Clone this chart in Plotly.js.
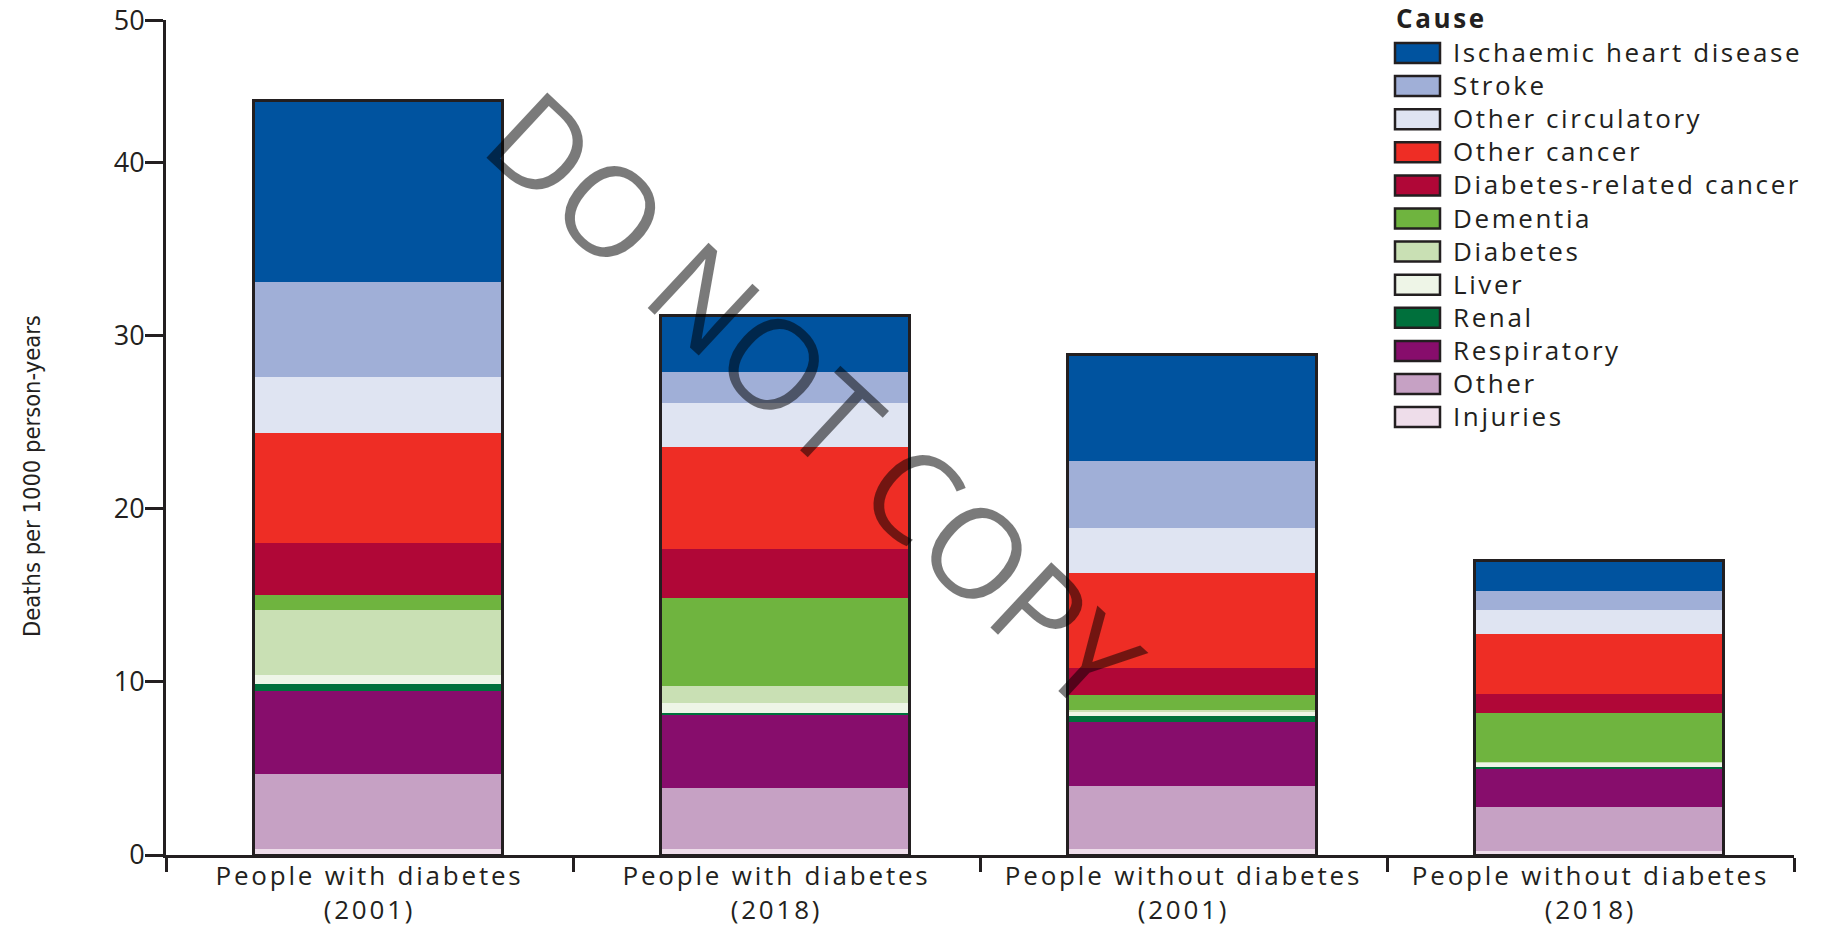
<!DOCTYPE html>
<html><head><meta charset="utf-8">
<script src="https://cdn.plot.ly/plotly-3.0.1.min.js"></script>
<style>
html,body{margin:0;padding:0;background:#fff;}
#chart{width:1824px;height:926px;}
.xtick text {letter-spacing:2.8px;}
.annotation .annotation-text {letter-spacing:2.6px;}
.annotation[data-index="0"] .annotation-text, .annotation[data-index="1"] .annotation-text {letter-spacing:0;}
</style>
</head><body><div id="chart"></div>
<script>
// ---- data ----
var groups = ['People with diabetes<br>(2001)', 'People with diabetes<br>(2018)', 'People without diabetes<br>(2001)', 'People without diabetes<br>(2018)'];
var causes = ['Ischaemic heart disease','Stroke','Other circulatory','Other cancer','Diabetes-related cancer','Dementia','Diabetes','Liver','Renal','Respiratory','Other','Injuries'];
var colors = ['#00539F','#A0AFD7','#DFE4F2','#EE2D25','#B00737','#6FB43F','#C9E0B4','#EEF5E7','#00703C','#870D6C','#C6A1C4','#EEDDEA'];
var ischaemic      = [10.49, 3.29, 6.12, 1.77];
var stroke         = [5.45, 1.77, 3.89, 1.08];
var otherCirc      = [3.24, 2.54, 2.56, 1.43];
var otherCancer    = [6.35, 5.92, 5.49, 3.42];
var diabetesCancer = [3.02, 2.79, 1.60, 1.14];
var dementia       = [0.85, 5.10, 0.87, 2.79];
var diabetesD      = [3.76, 0.98, 0.09, 0.05];
var liver          = [0.53, 0.56, 0.25, 0.24];
var renal          = [0.41, 0.16, 0.33, 0.10];
var respiratory    = [4.79, 4.17, 3.70, 2.25];
var other          = [4.34, 3.57, 3.66, 2.52];
var injuries       = [0.32, 0.32, 0.32, 0.23];
var yTop = 48.2;
var yTickVals = [0, 10, 20, 30, 40, 48.2];
var yTickText = ['0', '10', '20', '30', '40', '50'];
var yTitle = 'Deaths per 1000 person-years';
var legendTitle = 'Cause';
var watermark = 'DO NOT COPY';

var series = [ischaemic, stroke, otherCirc, otherCancer, diabetesCancer, dementia, diabetesD, liver, renal, respiratory, other, injuries];

// ---- geometry ----
var W = 1824, H = 926, L = 166, R = 30, T = 20, B = 71;
var PW = W - L - R, PH = H - T - B;
function px(x){ return (x - L) / PW; }
function py(y){ return (H - B - y) / PH; }
var ink = '#231f20';
var barW = 0.61, barOff = -0.284;

var traces = [];
for (var i = series.length - 1; i >= 0; i--) {
  traces.push({
    type: 'bar', name: causes[i], x: groups, y: series[i],
    width: barW, offset: barOff,
    marker: {color: colors[i], line: {width: 0}},
    hovertemplate: causes[i] + ': %{y}<extra></extra>'
  });
}
var totals = groups.map(function(g, j){ return series.reduce(function(s, a){ return s + a[j]; }, 0); });
traces.push({
  type: 'bar', name: 'Total', x: groups, y: totals, base: [0,0,0,0],
  width: barW, offset: barOff,
  marker: {color: 'rgba(0,0,0,0)', line: {width: 3, color: ink}},
  hoverinfo: 'skip', showlegend: false
});

var shapes = [], annotations = [];
annotations.push({
  text: watermark, xref: 'paper', yref: 'paper', x: px(816), y: py(398),
  xanchor: 'center', yanchor: 'middle', showarrow: false, textangle: 43,
  font: {family: 'Open Sans, sans-serif', size: 125, color: 'rgba(0,0,0,0.52)'}
});
annotations.push({
  text: yTitle, xref: 'paper', yref: 'paper', x: px(32), y: py(476),
  xanchor: 'center', yanchor: 'middle', showarrow: false, textangle: -90,
  font: {family: 'Liberation Sans Narrow, DejaVu Sans Condensed, sans-serif', size: 23.5, color: ink}
});
annotations.push({
  text: legendTitle, xref: 'paper', yref: 'paper', x: px(1394), y: py(18),
  xanchor: 'left', yanchor: 'middle', align: 'left', showarrow: false,
  font: {family: 'Open Sans, sans-serif', size: 26, color: ink, weight: 700}
});
for (var k = 0; k < causes.length; k++) {
  var cy = 53 + 33.1 * k;
  shapes.push({
    type: 'rect', xref: 'paper', yref: 'paper',
    x0: px(1395), x1: px(1440), y0: py(cy + 10), y1: py(cy - 10),
    fillcolor: colors[k], line: {color: ink, width: 2.5}
  });
  annotations.push({
    text: causes[k], xref: 'paper', yref: 'paper', x: px(1451), y: py(cy - 1),
    xanchor: 'left', yanchor: 'middle', align: 'left', showarrow: false,
    font: {family: 'Open Sans, sans-serif', size: 26, color: ink, weight: 500}
  });
}

var layout = {
  width: W, height: H, margin: {l: L, r: R, t: T, b: B, pad: 0},
  barmode: 'stack', showlegend: false,
  paper_bgcolor: '#fff', plot_bgcolor: '#fff',
  font: {family: 'Open Sans, sans-serif', color: ink, size: 26},
  xaxis: {type: 'category', range: [-0.5, 3.5], tickson: 'boundaries', ticks: 'outside',
    ticklen: 14, tickwidth: 3, tickcolor: ink, showline: true, linewidth: 3, linecolor: ink,
    showgrid: false, zeroline: false, tickfont: {size: 26, color: ink, weight: 500},
    ticklabelstandoff: -4, fixedrange: true},
  yaxis: {range: [0, yTop + 0.01], tickmode: 'array', tickvals: yTickVals, ticktext: yTickText,
    ticks: 'outside', ticklen: 18, tickwidth: 3, tickcolor: ink, showline: true, linewidth: 3,
    linecolor: ink, showgrid: false, zeroline: false, tickfont: {size: 27, color: ink, weight: 500},
    ticklabelstandoff: -5, ticklabeloverflow: 'allow', fixedrange: true},
  shapes: shapes, annotations: annotations
};
Plotly.newPlot('chart', traces, layout, {displayModeBar: false});
</script></body></html>
